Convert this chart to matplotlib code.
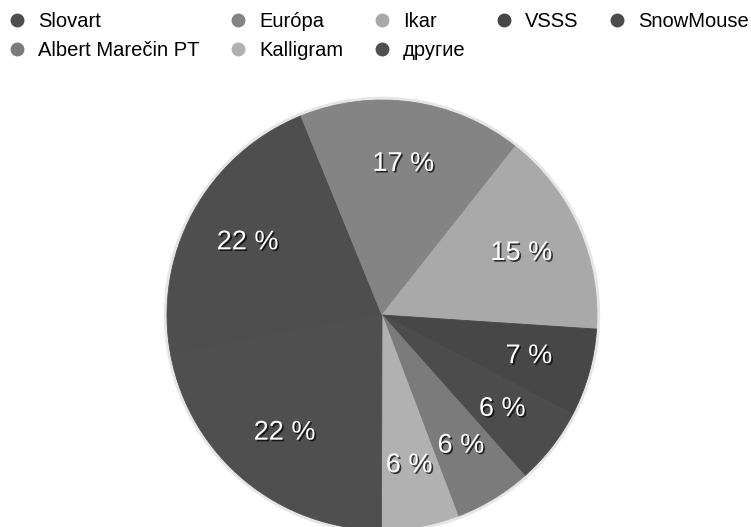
import matplotlib.pyplot as plt
import matplotlib.patheffects as pe
from matplotlib.lines import Line2D

# data (shares in %, labels rounded)
publishers = ['Slovart', 'Európa', 'Ikar', 'VSSS', 'SnowMouse',
              'Albert Marečin PT', 'Kalligram', 'другие']
shares = [21.9, 16.8, 15.4, 6.6, 5.8, 5.8, 5.8, 21.9]
colors = ['#4e4e4e', '#848484', '#a9a9a9', '#474747', '#4c4c4c',
          '#7b7b7b', '#b1b1b1', '#4f4f4f']

plt.rcParams['font.family'] = ['Liberation Sans', 'DejaVu Sans']

fig = plt.figure(figsize=(7.51, 5.27), dpi=100)

# pie centre ~ (382, 315) px, radius ~ 215 px
W, H = 751, 527
cx, cy, r = 382, 315, 215
ax = fig.add_axes([(cx - r) / W, (H - cy - r) / H, 2 * r / W, 2 * r / H])

# faint halo around the pie
halo = plt.Circle((0, 0), 1.012, color='#e6e6e6', zorder=0, clip_on=False)
ax.add_patch(halo)

wedges, texts, autotexts = ax.pie(
    shares, colors=colors, startangle=191, counterclock=False,
    autopct=lambda p: '%.0f %%' % p, pctdistance=0.71,
    textprops=dict(color='white', fontsize=19.5))
for w, c in zip(wedges, colors):
    w.set_edgecolor(c)
    w.set_linewidth(0.6)
    w.set_clip_on(False)
for t in autotexts:
    t.set_path_effects([pe.withSimplePatchShadow(offset=(1.2, -1.2),
                                                 shadow_rgbFace='black', alpha=0.7)])
ax.set_xlim(-1, 1)
ax.set_ylim(-1, 1)
ax.set_aspect('equal')

# legend: two rows, order chosen so column-wise fill reads row-wise
order = [0, 5, 1, 6, 2, 7, 3, 4]
handles = [Line2D([], [], marker='o', linestyle='', markersize=9,
                  markerfacecolor=colors[i], markeredgecolor=colors[i])
           for i in order]
labels = [publishers[i] for i in order]
fig.legend(handles, labels, loc='upper left', bbox_to_anchor=(-0.004, 0.992),
           ncol=5, frameon=False, fontsize=14.5, handletextpad=0.45,
           columnspacing=1.3, labelspacing=0.5, handlelength=1.2,
           borderaxespad=0.0)

fig.savefig('out.png', dpi=100)
